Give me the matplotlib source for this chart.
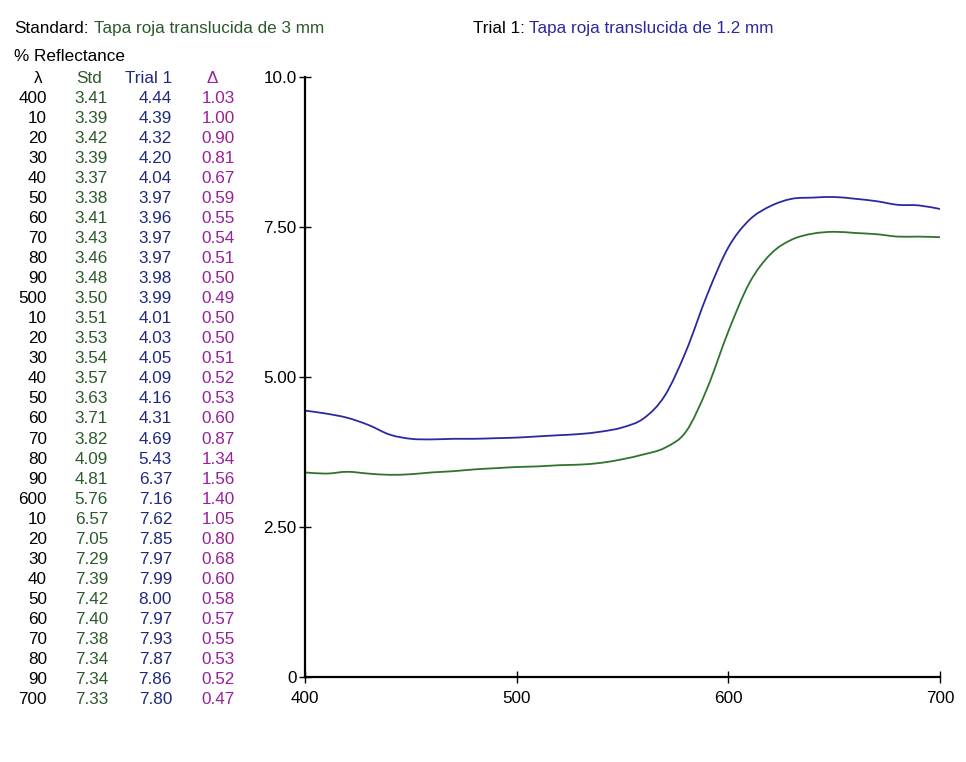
import numpy as np
import matplotlib
matplotlib.use('Agg')
import matplotlib.pyplot as plt
from matplotlib.path import Path
from matplotlib.patches import PathPatch

plt.rcParams['font.family'] = ['Liberation Sans', 'DejaVu Sans']

# % reflectance, 400-700 nm every 10 nm
wavelength = np.arange(400, 701, 10)
std = [3.41, 3.39, 3.42, 3.39, 3.37, 3.38, 3.41, 3.43, 3.46, 3.48,
       3.50, 3.51, 3.53, 3.54, 3.57, 3.63, 3.71, 3.82, 4.09, 4.81,
       5.76, 6.57, 7.05, 7.29, 7.39, 7.42, 7.40, 7.38, 7.34, 7.34, 7.33]
trial1 = [4.44, 4.39, 4.32, 4.20, 4.04, 3.97, 3.96, 3.97, 3.97, 3.98,
          3.99, 4.01, 4.03, 4.05, 4.09, 4.16, 4.31, 4.69, 5.43, 6.37,
          7.16, 7.62, 7.85, 7.97, 7.99, 8.00, 7.97, 7.93, 7.87, 7.86, 7.80]
delta = [1.03, 1.00, 0.90, 0.81, 0.67, 0.59, 0.55, 0.54, 0.51, 0.50,
         0.49, 0.50, 0.50, 0.51, 0.52, 0.53, 0.60, 0.87, 1.34, 1.56,
         1.40, 1.05, 0.80, 0.68, 0.60, 0.58, 0.57, 0.55, 0.53, 0.52, 0.47]
yticks = [0, 2.5, 5.0, 7.5, 10.0]
ytick_labels = ['0', '2.50', '5.00', '7.50', '10.0']
xticks = [400, 500, 600, 700]

std_name = 'Tapa roja translucida de 3 mm'
trial_name = 'Tapa roja translucida de 1.2 mm'

green = '#2f732f'
blue = '#2a2aa0'
green_txt = '#2b5a2b'
blue_txt = '#1f2a7f'
purple = '#98209a'


def smooth_path(x, y):
    # catmull-rom style bezier through the measured points
    x = np.asarray(x, float)
    y = np.asarray(y, float)
    pts = np.column_stack([x, y])
    n = len(pts)
    verts = [pts[0]]
    codes = [Path.MOVETO]
    for i in range(n - 1):
        p0 = pts[max(i - 1, 0)]
        p1 = pts[i]
        p2 = pts[i + 1]
        p3 = pts[min(i + 2, n - 1)]
        c1 = p1 + (p2 - p0) / 6
        c2 = p2 - (p3 - p1) / 6
        verts += [c1, c2, p2]
        codes += [Path.CURVE4] * 3
    return Path(verts, codes)


W, H = 966, 762
fig = plt.figure(figsize=(W / 100, H / 100), dpi=100)

# pixel-coordinate overlay for the header and table
tab = fig.add_axes([0, 0, 1, 1])
tab.set_xlim(0, W)
tab.set_ylim(H, 0)
tab.axis('off')

fs = 12.3
bl = 6  # baseline offset from row centre, px
tab.text(14, 27 + bl, 'Standard:', fontsize=fs, va='baseline', color='black')
tab.text(94, 27 + bl, std_name, fontsize=fs, va='baseline', color=green_txt)
tab.text(473, 27 + bl, 'Trial 1:', fontsize=fs, va='baseline', color='black')
tab.text(529, 27 + bl, trial_name, fontsize=fs, va='baseline', color=blue)
tab.text(14, 55 + bl, '% Reflectance', fontsize=fs, va='baseline', color='black')

tab.text(38, 77 + bl, 'λ', fontsize=fs, va='baseline', ha='center', color='black')
tab.text(89, 77 + bl, 'Std', fontsize=fs, va='baseline', ha='center', color=green_txt)
tab.text(172, 77 + bl, 'Trial 1', fontsize=fs, va='baseline', ha='right', color=blue_txt)
tab.text(212, 77 + bl, 'Δ', fontsize=fs, va='baseline', ha='center', color=purple)

for i, wl in enumerate(wavelength):
    y = 97 + i * 20.03 + bl
    lab = str(wl) if wl % 100 == 0 else str(wl % 100)
    tab.text(47, y, lab, fontsize=fs, va='baseline', ha='right', color='black')
    tab.text(108, y, f'{std[i]:.2f}', fontsize=fs, va='baseline', ha='right', color=green_txt)
    tab.text(172, y, f'{trial1[i]:.2f}', fontsize=fs, va='baseline', ha='right', color=blue_txt)
    tab.text(235, y, f'{delta[i]:.2f}', fontsize=fs, va='baseline', ha='right', color=purple)

# chart
ax = fig.add_axes([305 / W, 1 - 677 / H, (940 - 305) / W, (677 - 77) / H])
for series, col in [(trial1, blue), (std, green)]:
    ax.add_patch(PathPatch(smooth_path(wavelength, series), facecolor='none',
                           edgecolor=col, lw=1.3, transform=ax.transData))
ax.set_xlim(400, 700)
ax.set_ylim(0, 10)
ax.set_xticks(xticks)
ax.set_yticks(yticks)
ax.set_yticklabels(ytick_labels)
ax.spines['top'].set_visible(False)
ax.spines['right'].set_visible(False)
ax.spines['left'].set_linewidth(1.6)
ax.spines['bottom'].set_linewidth(1.6)
ax.tick_params(axis='both', direction='inout', length=8, width=1.0,
               labelsize=fs, colors='black')
ax.tick_params(axis='y', pad=2)
ax.tick_params(axis='x', pad=6)
ax.patch.set_alpha(0)

fig.savefig('out.png', dpi=100)
